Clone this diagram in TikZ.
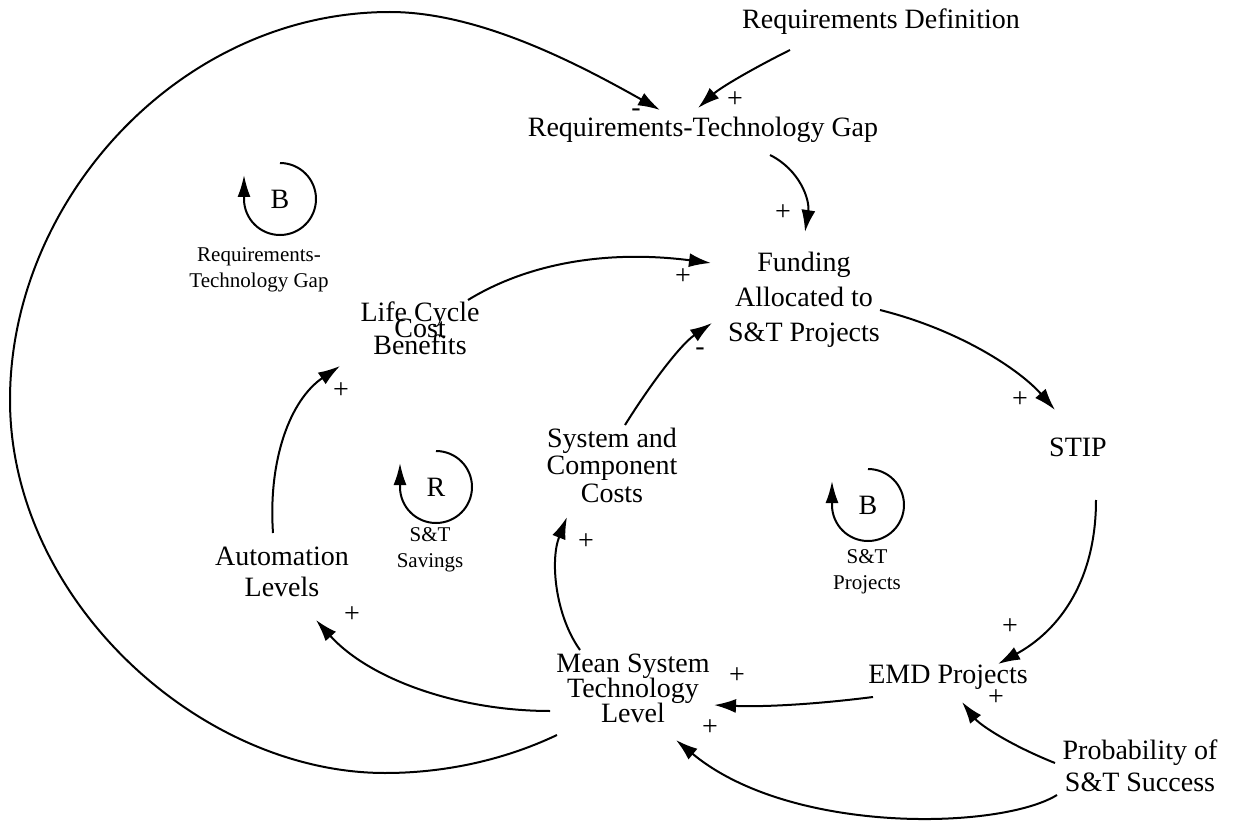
\documentclass[tikz,border=0pt]{standalone}
\usepackage{fontspec}
\setmainfont{Liberation Serif}
\usetikzlibrary{arrows.meta}
\usetikzlibrary{calc}
\newcommand{\tightlines}{\lineskiplimit-20pt\relax}
\tikzset{var/.style={align=center,font=\fontsize{14}{17.5}\selectfont\tightlines,inner sep=0pt},
 loopname/.style={align=center,font=\fontsize{10.5}{13}\selectfont,inner sep=0pt},
 loopmark/.style={font=\fontsize{14}{14}\selectfont,inner sep=0pt},
 polarity/.style={font=\fontsize{14}{14}\selectfont,inner sep=0pt},
 link/.style={line width=1pt,-{Latex[length=11pt,width=7pt]}},
 looparc/.style={line width=1pt,-{Latex[length=11pt,width=6.5pt]}},
 }

\begin{document}
\begin{tikzpicture}[x=0.5pt,y=-0.5pt]
        \useasboundingbox (0,0) rectangle (1233,824);

        \node[var] (reqdef) at (881,22) {Requirements Definition};
        \node[var] (gap) at (703,130) {Requirements-Technology Gap};
        \node[var] (funding) at (804,300) {Funding\\Allocated to\\S\&T Projects};
        \node[var] (stip) at (1078,447) {STIP};
        \node[var] (emd) at (948,677) {EMD Projects};
        \node[var,font=\fontsize{14}{16}\selectfont] (prob) at (1140,766) {Probability of\\S\&T Success};
        \node[var,font=\fontsize{14}{12.5}\selectfont\tightlines] (mean) at (633,688) {Mean System\\Technology\\Level};
        \node[var,font=\fontsize{14}{15.5}\selectfont] (auto) at (282,572) {Automation\\Levels};
        \node[var,font=\fontsize{14}{8.25}\selectfont\tightlines] (lcc) at (420,328) {Life Cycle\\Cost\\Benefits};
        \node[var,font=\fontsize{14}{13.75}\selectfont\tightlines] (costs) at (612,465) {System and\\Component\\Costs};

        \draw[link] ($(mean)+(-76,47)$) .. controls (500,762) and (440,773) .. (385,773)
            .. controls (200,773) and (10,600) .. (10,400)
            .. controls (10,200) and (180,12) .. (390,12)
            .. controls (480,12) and (580,65) .. ($(gap)+(-43,-20)$);
        \draw[link] ($(reqdef)+(-91,28)$) .. controls (750,70) and (720,88) .. ($(gap)+(-5,-22)$);
        \draw[link] ($(gap)+(67,25)$) .. controls (800,170) and (810,200) .. ($(funding)+(1,-68)$);
        \draw[link] ($(lcc)+(48,-28)$) .. controls (530,262) and (610,250) .. ($(funding)+(-93,-37)$);
        \draw[link] ($(costs)+(13,-40)$) .. controls (650,385) and (680,345) .. ($(funding)+(-92,23)$);
        \draw[link] ($(funding)+(76,10)$) .. controls (960,330) and (1020,370) .. ($(stip)+(-23,-37)$);
        \draw[link] ($(stip)+(18,53)$) .. controls (1096,580) and (1060,630) .. ($(emd)+(50,-13)$);
        \draw[link] ($(emd)+(-75,20)$) .. controls (810,705) and (760,707) .. ($(mean)+(81,17)$);
        \draw[link] ($(prob)+(-85,-3)$) .. controls (1010,745) and (980,725) .. ($(emd)+(14,25)$);
        \draw[link] ($(prob)+(-83,29)$) .. controls (1000,830) and (790,835) .. ($(mean)+(43,52)$);
        \draw[link] ($(mean)+(-53,-38)$) .. controls (555,615) and (550,560) .. ($(costs)+(-45,52)$);
        \draw[link] ($(mean)+(-83,23)$) .. controls (460,711) and (370,680) .. ($(auto)+(34,48)$);
        \draw[link] ($(auto)+(-9,-39)$) .. controls (268,460) and (290,400) .. ($(lcc)+(-80,38)$);

        \node[polarity] (gapminus) at (636,113) {-};
        \node[polarity] (gapplus) at (735,100) {+};
        \node[polarity] (fundplus) at (783,213) {+};
        \node[polarity] (lccplus) at (683,277) {+};
        \node[polarity] (costminus) at (700,352) {-};
        \node[polarity] (stipplus) at (1020,400) {+};
        \node[polarity] (emdplus) at (1010,627) {+};
        \node[polarity] (meanplus) at (737,676) {+};
        \node[polarity] (probplus) at (996,698) {+};
        \node[polarity] (levelplus) at (710,728) {+};
        \node[polarity] (costplus) at (586,542) {+};
        \node[polarity] (autoplus) at (352,615) {+};
        \node[polarity] (benefitplus) at (341,391) {+};

        \node[loopmark] (gaploop) at (280,199) {B};
        \draw[looparc] (gaploop.center) ++(90:18pt) arc[start angle=90,end angle=-180,radius=18pt] -- ++(0pt,12pt);
        \node[loopname] (gapname) at (259,270) {Requirements-\\Technology Gap};

        \node[loopmark] (saveloop) at (436,487) {R};
        \draw[looparc] (saveloop.center) ++(90:18pt) arc[start angle=90,end angle=-180,radius=18pt] -- ++(0pt,12pt);
        \node[loopname] (savename) at (430,550) {S\&T\\Savings};

        \node[loopmark] (projloop) at (868,505) {B};
        \draw[looparc] (projloop.center) ++(90:18pt) arc[start angle=90,end angle=-180,radius=18pt] -- ++(0pt,12pt);
        \node[loopname] (projname) at (867,572) {S\&T\\Projects};
\end{tikzpicture}
\end{document}
